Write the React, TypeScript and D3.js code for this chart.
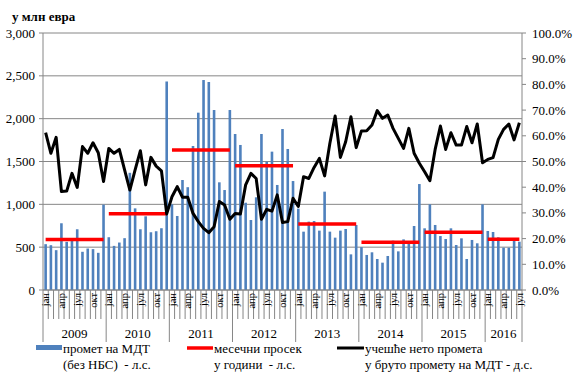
import React from "react";
import * as d3 from "d3";

const years = ["2009", "2010", "2011", "2012", "2013", "2014", "2015", "2016"];
const monthNames = ["јан", "феб", "мар", "апр", "мај", "јун", "јул", "авг", "сеп", "окт", "нов", "дец"];
const shownMonths = ["јан", "апр", "јул", "окт"];

// промет на МДТ (без НБС), у млн евра
const turnover = [
  535, 523, 465, 779, 562, 581, 709, 446, 484, 477, 434, 996,
  616, 515, 554, 605, 1368, 953, 709, 860, 674, 686, 721, 2434,
  1000, 864, 1284, 1200, 1681, 2070, 2451, 2428, 2101, 1257, 1167, 2101,
  1821, 1693, 1019, 817, 1082, 1821, 1498, 1615, 1226, 1879, 1646, 1272,
  950, 681, 798, 805, 693, 1148, 681, 611, 693, 712, 416, 759,
  500, 409, 440, 362, 319, 397, 576, 451, 591, 545, 747, 1237,
  720, 1000, 759, 630, 595, 720, 525, 603, 362, 584, 545, 1000,
  689, 677, 615, 494, 494, 584, 564,
];

// учешће нето промета у бруто промету (%)
const netShare = [
  61.2, 53.2, 59.4, 38.3, 38.5, 45.4, 39.9, 55.8, 53.2, 57.3, 53.4, 42.2,
  55.1, 53.2, 54.7, 46.7, 38.9, 46.7, 54.2, 40.9, 51.6, 48.2, 46.4, 29.6,
  36.3, 40.2, 36.1, 36.1, 29.8, 26.6, 24.0, 22.3, 24.6, 34.4, 33.1, 27.5,
  29.8, 29.6, 40.9, 45.4, 43.4, 27.5, 31.4, 30.7, 37.0, 26.3, 26.6, 35.7,
  32.5, 44.1, 43.4, 47.7, 51.2, 44.4, 57.1, 67.7, 51.6, 57.7, 67.4, 55.4,
  61.9, 62.0, 64.2, 69.8, 66.8, 68.1, 62.9, 59.0, 55.1, 62.9, 53.2, 49.3,
  46.0, 42.5, 54.7, 63.8, 54.7, 61.2, 56.4, 56.4, 63.6, 57.3, 64.6, 49.5,
  50.8, 51.5, 58.6, 62.5, 64.6, 58.4, 65.1,
];

// месечни просек у години
const yearlyAverage = [589, 891, 1634, 1451, 770, 556, 673, 591];

const leftTicks = [0, 500, 1000, 1500, 2000, 2500, 3000];
const rightTicks = [0, 10, 20, 30, 40, 50, 60, 70, 80, 90, 100];

const W = 575;
const H = 378;
const L = 43;
const R = 522;
const T = 33;
const B = 290;
const FONT = "'Liberation Serif', 'Times New Roman', serif";
const GRID = "#868686";

export default function App() {
  const idx = turnover.map((_, i) => i);
  const x = d3.scaleBand<number>().domain(idx).range([L, R]).padding(0);
  const bw = x.bandwidth();
  const cx = (i: number) => (x(i) as number) + bw / 2;
  const yL = d3.scaleLinear().domain([0, 3000]).range([B, T]);
  const yR = d3.scaleLinear().domain([0, 100]).range([B, T]);

  const line = d3
    .line<number>()
    .x((_, i) => cx(i))
    .y((d) => yR(d));

  const fmtL = d3.format(",");
  const fmtR = (v: number) => v.toFixed(1) + "%";

  const yearStart = (y: number) => y * 12;
  const yearEnd = (y: number) => Math.min(y * 12 + 11, turnover.length - 1);

  return (
    <svg
      width={W}
      height={H}
      style={{ position: "fixed", left: 0, top: 0, background: "#fff" }}
      fontFamily={FONT}
    >
      <rect x={0} y={0} width={W} height={H} fill="#fff" />
      {/* title */}
      <text x={12} y={21} fontSize={13} fontWeight="bold" fill="#000">
        у млн евра
      </text>

      {/* gridlines */}
      {leftTicks.map((t) => (
        <line key={"g" + t} x1={L - 4} x2={R} y1={yL(t)} y2={yL(t)} stroke={GRID} strokeWidth={1} />
      ))}
      {/* left axis line */}
      <line x1={L} x2={L} y1={T} y2={B} stroke={GRID} />
      {/* right axis */}
      <line x1={R} x2={R} y1={T} y2={B} stroke={GRID} />
      {rightTicks.map((t) => (
        <line key={"rt" + t} x1={R} x2={R + 4} y1={yR(t)} y2={yR(t)} stroke={GRID} />
      ))}

      {/* left labels */}
      {leftTicks.map((t) => (
        <text key={"l" + t} x={35} y={yL(t)} dy="0.35em" fontSize={13} textAnchor="end" fill="#000">
          {fmtL(t)}
        </text>
      ))}
      {/* right labels */}
      {rightTicks.map((t) => (
        <text key={"r" + t} x={532} y={yR(t)} dy="0.35em" fontSize={13} textAnchor="start" fill="#000">
          {fmtR(t)}
        </text>
      ))}

      {/* bars */}
      {turnover.map((v, i) => (
        <rect key={"b" + i} x={cx(i) - 1.3} width={2.6} y={yL(v)} height={B - yL(v)} fill="#4F81BD" />
      ))}

      {/* yearly average red segments */}
      {yearlyAverage.map((v, y) => (
        <line
          key={"a" + y}
          x1={cx(yearStart(y))}
          x2={cx(yearEnd(y))}
          y1={yL(v)}
          y2={yL(v)}
          stroke="#FF0000"
          strokeWidth={3.5}
        />
      ))}

      {/* net share line */}
      <path d={line(netShare) || ""} fill="none" stroke="#000" strokeWidth={3} strokeLinejoin="round" />

      {/* x axis */}
      <line x1={L} x2={R} y1={B} y2={B} stroke={GRID} />
      {idx.map((i) => (
        <line
          key={"mt" + i}
          x1={x(i) as number}
          x2={x(i) as number}
          y1={B}
          y2={i % 12 === 0 ? 342 : 319}
          stroke={GRID}
        />
      ))}
      <line x1={R} x2={R} y1={B} y2={342} stroke={GRID} />
      {idx
        .filter((i) => shownMonths.includes(monthNames[i % 12]))
        .map((i) => (
          <text
            key={"ml" + i}
            transform={`translate(${cx(i)},${293}) rotate(-90)`}
            dy="0.35em"
            textAnchor="end"
            fontSize={10.5}
            fill="#000"
          >
            {monthNames[i % 12]}
          </text>
        ))}
      {years.map((yr, y) => {
        const x0 = x(yearStart(y)) as number;
        const x1 = (x(yearEnd(y)) as number) + bw;
        return (
          <text key={"y" + yr} x={(x0 + x1) / 2} y={337.5} fontSize={13} textAnchor="middle" fill="#000">
            {yr}
          </text>
        );
      })}

      {/* legend */}
      <rect x={36} y={345} width={26} height={5} fill="#4F81BD" />
      <text x={63} y={353} fontSize={13} fill="#000">промет на МДТ</text>
      <text x={63} y={369} fontSize={13} fill="#000" style={{ whiteSpace: "pre" }}>(без НБС)  - л.с.</text>

      <line x1={187} x2={213} y1={348} y2={348} stroke="#FF0000" strokeWidth={3.5} />
      <text x={214} y={353} fontSize={13} fill="#000">месечни просек</text>
      <text x={214} y={369} fontSize={13} fill="#000" style={{ whiteSpace: "pre" }}>у години  - л.с.</text>

      <line x1={337} x2={364} y1={348} y2={348} stroke="#000" strokeWidth={3} />
      <text x={365} y={353} fontSize={13} fill="#000">учешће нето промета</text>
      <text x={365} y={369} fontSize={13} fill="#000">у бруто промету на МДТ - д.с.</text>
    </svg>
  );
}
